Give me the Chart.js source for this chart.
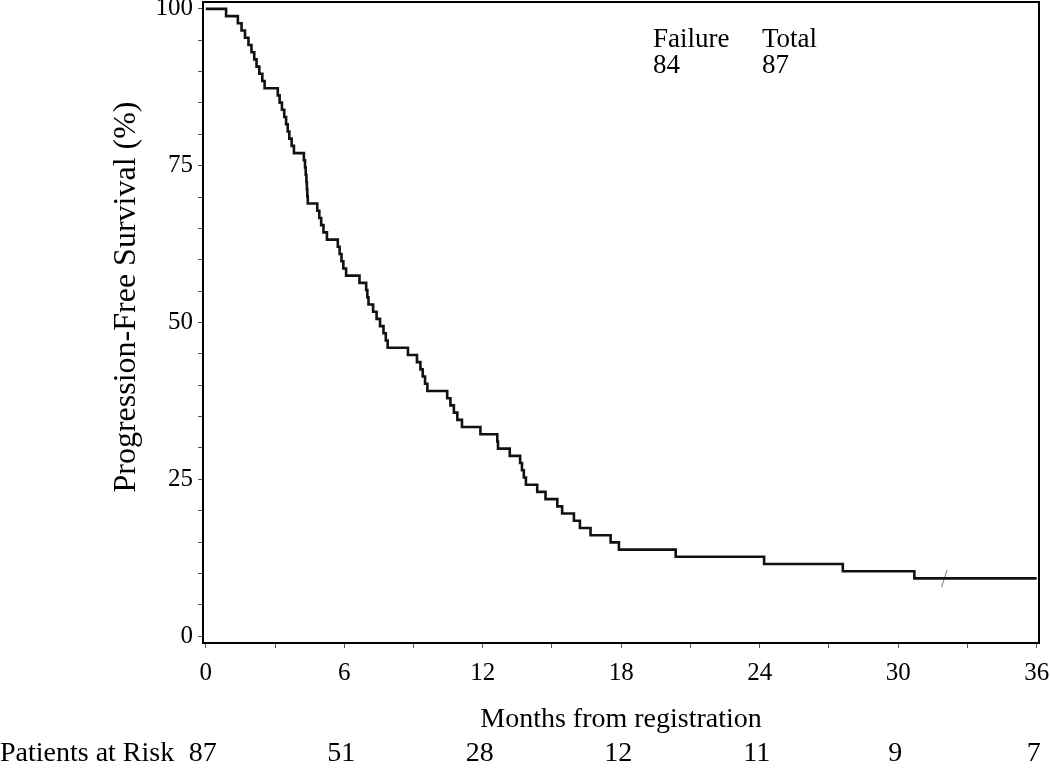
<!DOCTYPE html>
<html>
<head>
<meta charset="utf-8">
<script src="https://cdn.jsdelivr.net/npm/chart.js@4"></script>
<style>
  html, body { margin: 0; padding: 0; background: #fff; }
  #wrap { width: 1050px; height: 770px; position: relative; }
</style>
</head>
<body>
<div id="wrap"><canvas id="c"></canvas></div>
<script>
// ---- Data ----
const eventMonths = [0, 0.88, 1.39, 1.55, 1.70, 1.85, 1.98, 2.10, 2.20, 2.32, 2.45, 2.55,
  3.12, 3.20, 3.30, 3.40, 3.48, 3.55, 3.62, 3.72, 3.82,
  4.25, 4.30, 4.33, 4.36, 4.38, 4.40, 4.42,
  4.83, 4.92, 5.00, 5.10, 5.25,
  5.72, 5.80, 5.88, 5.96, 6.08,
  6.66, 6.95, 7.00, 7.05, 7.25, 7.40, 7.55, 7.70, 7.80, 7.88,
  8.76, 9.15, 9.30, 9.40, 9.50, 9.60,
  10.46, 10.60, 10.75, 10.90, 11.10,
  11.90, 12.63, 12.66, 13.17, 13.62, 13.70, 13.78, 13.87,
  14.36, 14.72, 15.23, 15.44, 15.95, 16.21, 16.67, 17.54, 17.90,
  20.36, 24.19, 27.60, 30.70, 36.0];
const survivalPct = [100, 98.85, 97.70, 96.55, 95.40, 94.25, 93.10, 91.95, 90.80, 89.66, 88.51, 87.36,
  86.21, 85.06, 83.91, 82.76, 81.61, 80.46, 79.31, 78.16, 77.01,
  75.86, 74.71, 73.56, 72.41, 71.26, 70.11, 68.97,
  67.82, 66.67, 65.52, 64.37, 63.22,
  62.07, 60.92, 59.77, 58.62, 57.47,
  56.32, 55.17, 54.02, 52.87, 51.72, 50.57, 49.43, 48.28, 47.13, 45.98,
  44.83, 43.68, 42.53, 41.38, 40.23, 39.08,
  37.93, 36.78, 35.63, 34.48, 33.33,
  32.18, 31.03, 29.89, 28.74, 27.59, 26.44, 25.29, 24.14,
  22.99, 21.84, 20.69, 19.54, 18.39, 17.24, 16.09, 14.94, 13.79,
  12.64, 11.49, 10.34, 9.20, 9.20];
const censorMonths = [32.0];
const censorPct = [9.20];

const xTickValues = [0, 3, 6, 9, 12, 15, 18, 21, 24, 27, 30, 33, 36];
const xLabelValues = [0, 6, 12, 18, 24, 30, 36];
const yTickValues = [0, 5, 10, 15, 20, 25, 30, 35, 40, 45, 50, 55, 60, 65, 70, 75, 80, 85, 90, 95, 100];
const yLabelValues = [0, 25, 50, 75, 100];

const riskMonths = [0, 6, 12, 18, 24, 30, 36];
const riskCounts = [87, 51, 28, 12, 11, 9, 7];

const yTitle = 'Progression-Free Survival (%)';
const xTitle = 'Months from registration';
const riskTitle = 'Patients at Risk';
const summaryHeaders = ['Failure', 'Total'];
const summaryValues = ['84', '87'];

const FONT = '"Liberation Serif", "DejaVu Serif", serif';

// ---- Plugin: frame, titles, summary, risk table ----
const extras = {
  id: 'extras',
  afterDraw(chart) {
    const ctx = chart.ctx;
    const a = chart.chartArea;
    const xs = chart.scales.x;
    ctx.save();
    // frame
    ctx.strokeStyle = '#000';
    ctx.lineWidth = 2;
    ctx.strokeRect(a.left, a.top, a.right - a.left, a.bottom - a.top);

    ctx.fillStyle = '#000';
    // y title
    ctx.font = '32px ' + FONT;
    ctx.textAlign = 'center';
    ctx.textBaseline = 'middle';
    ctx.save();
    ctx.translate(127, 297);
    ctx.rotate(-Math.PI / 2);
    ctx.fillText(yTitle, 0, 0);
    ctx.restore();

    // x title
    ctx.font = '28px ' + FONT;
    ctx.fillText(xTitle, (a.left + a.right) / 2, 720);

    // summary
    ctx.font = '27px ' + FONT;
    ctx.textAlign = 'left';
    ctx.textBaseline = 'alphabetic';
    ctx.fillText(summaryHeaders[0], 653, 47);
    ctx.fillText(summaryHeaders[1], 762, 47);
    ctx.fillText(summaryValues[0], 653, 73);
    ctx.fillText(summaryValues[1], 762, 73);

    // risk table
    ctx.font = '28px ' + FONT;
    ctx.textBaseline = 'middle';
    ctx.textAlign = 'left';
    ctx.fillText(riskTitle, 0, 754);
    ctx.textAlign = 'center';
    riskMonths.forEach((m, i) => {
      ctx.fillText(String(riskCounts[i]), xs.getPixelForValue(m) - 3, 754);
    });
    ctx.restore();
  }
};

const kmPoints = eventMonths.map((t, i) => ({ x: t, y: survivalPct[i] }));
const censorPoints = censorMonths.map((t, i) => ({ x: t, y: censorPct[i] }));

new Chart(document.getElementById('c'), {
  type: 'scatter',
  data: {
    datasets: [
      {
        data: kmPoints,
        showLine: true,
        stepped: 'before',
        borderColor: '#111',
        borderWidth: 2.6,
        pointRadius: 0,
        pointHoverRadius: 0,
        fill: false
      },
      {
        data: censorPoints,
        showLine: false,
        pointStyle: 'line',
        pointRotation: 108,
        pointRadius: 9,
        borderColor: '#888',
        backgroundColor: '#888',
        pointBorderWidth: 1.1,
        borderWidth: 1.1
      }
    ]
  },
  options: {
    responsive: true,
    maintainAspectRatio: false,
    animation: false,
    events: [],
    layout: { autoPadding: false, padding: { left: 0, right: 11, top: 2, bottom: 0 } },
    plugins: { legend: { display: false }, tooltip: { enabled: false } },
    scales: {
      x: {
        type: 'linear',
        min: -0.12,
        max: 36.1,
        afterBuildTicks(scale) { scale.ticks = xTickValues.map(v => ({ value: v })); },
        afterFit(scale) {
          scale.height = 127;
          scale.paddingLeft = 0; scale.paddingRight = 0;
          scale.paddingTop = 0; scale.paddingBottom = 0;
        },
        border: { display: true, color: '#000', width: 2 },
        grid: { display: true, drawOnChartArea: false, drawTicks: true, tickLength: 5, color: '#555', lineWidth: 1 },
        ticks: {
          autoSkip: false,
          maxRotation: 0,
          padding: 10,
          color: '#000',
          font: { family: FONT, size: 25 },
          callback: (v) => xLabelValues.includes(v) ? String(v) : ''
        }
      },
      y: {
        type: 'linear',
        min: -1.1,
        max: 101.1,
        afterBuildTicks(scale) { scale.ticks = yTickValues.map(v => ({ value: v })); },
        afterFit(scale) {
          scale.width = 203;
          scale.paddingLeft = 0; scale.paddingRight = 0;
          scale.paddingTop = 0; scale.paddingBottom = 0;
        },
        border: { display: true, color: '#000', width: 2 },
        grid: { display: true, drawOnChartArea: false, drawTicks: true, tickLength: 5, color: '#555', lineWidth: 1 },
        ticks: {
          autoSkip: false,
          padding: 5,
          color: '#000',
          font: { family: FONT, size: 25 },
          callback: (v) => yLabelValues.includes(v) ? String(v) : ''
        }
      }
    }
  },
  plugins: [extras]
});
</script>
</body>
</html>
